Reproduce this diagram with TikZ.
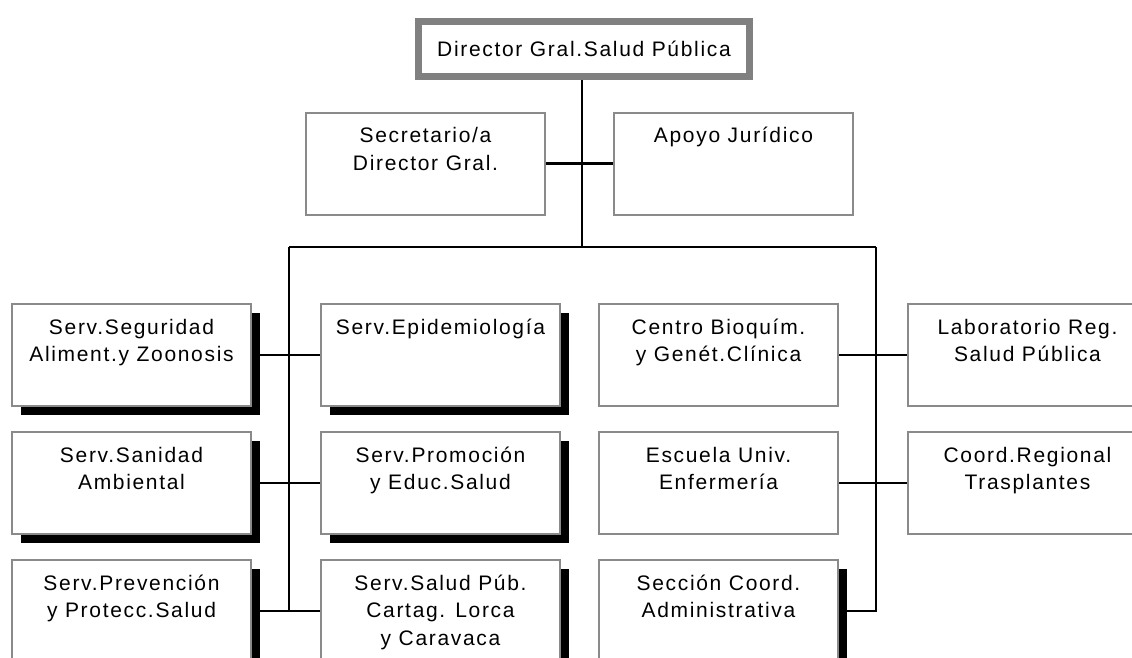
\documentclass[tikz,border=0pt]{standalone}
\usepackage{fontspec}
\setmainfont{Liberation Sans}[LetterSpace=8]
\usepackage{xcolor}
\usetikzlibrary{positioning,shadows}
\definecolor{framegray}{RGB}{138,138,138}
\definecolor{headgray}{RGB}{128,128,128}
\newcommand{\unittext}[1]{\parbox[t][80pt][t]{230pt}{\centering\strut#1}}

\begin{document}
\begin{tikzpicture}[x=1pt,y=-1pt,node distance=24pt and 68pt,
  font=\fontsize{21}{27.5}\selectfont,
  unit/.style={draw=framegray,line width=2pt,fill=white,minimum width=239pt,
    minimum height=102pt,inner xsep=0pt,inner ysep=11pt},
  shd/.style={unit,drop shadow={shadow xshift=8.5pt,shadow yshift=-8.5pt,
    fill=black,opacity=1}},
  head/.style={draw=headgray,line width=7pt,fill=white,minimum width=331pt,
    minimum height=55pt},
  link/.style={line width=2.8pt},
  every edge/.style={draw,link}]
  \path[use as bounding box,fill=white](0,0)rectangle(1132,657);
  \clip(0,0)rectangle(1132,657);
  \node[head](dir) at (584,49){Director Gral.Salud Pública};
  \node[unit](sec) at (425.5,163.5){\unittext{Secretario/a\\Director Gral.}};
  \node[unit,right=67pt of sec](apo){\unittext{Apoyo Jurídico}};
  % left block
  \node[shd](seg) at (131.5,355){\unittext{Serv.Seguridad\\Aliment.y Zoonosis}};
  \node[shd,below=of seg](san){\unittext{Serv.Sanidad\\Ambiental}};
  \node[shd,below=of san](prv){\unittext{Serv.Prevención\\y Protecc.Salud}};
  \node[shd,right=of seg](epi){\unittext{Serv.Epidemiología}};
  \node[shd,below=of epi](pro){\unittext{Serv.Promoción\\y Educ.Salud}};
  \node[shd,below=of pro](spc){\unittext{Serv.Salud Púb.\\Cartag. Lorca\\y Caravaca}};
  % right block
  \node[unit,right=37pt of epi](cbg){\unittext{Centro Bioquím.\\y Genét.Clínica}};
  \node[unit,below=of cbg](enf){\unittext{Escuela Univ.\\Enfermería}};
  \node[shd,below=of enf](adm){\unittext{Sección Coord.\\Administrativa}};
  \node[unit,right=of cbg](lab){\unittext{Laboratorio Reg.\\Salud Pública}};
  \node[unit,below=of lab](tra){\unittext{Coord.Regional\\Trasplantes}};
  % lines
  \coordinate(busL) at (289,247); \coordinate(busM) at (582,247);
  \coordinate(busR) at (876,247);
  \draw[link](dir.south-|busM)--(busM); \draw(sec)edge(apo);
  \draw[link](busL)--(busR);
  \draw[link](busL)--(busL|-prv);
  \draw(seg)edge(epi); \draw(san)edge(pro); \draw(prv)edge(spc);
  \draw[link](busR)--(busR|-adm)--(adm);
  \draw(cbg)edge(lab); \draw(enf)edge(tra);
\end{tikzpicture}
\end{document}
